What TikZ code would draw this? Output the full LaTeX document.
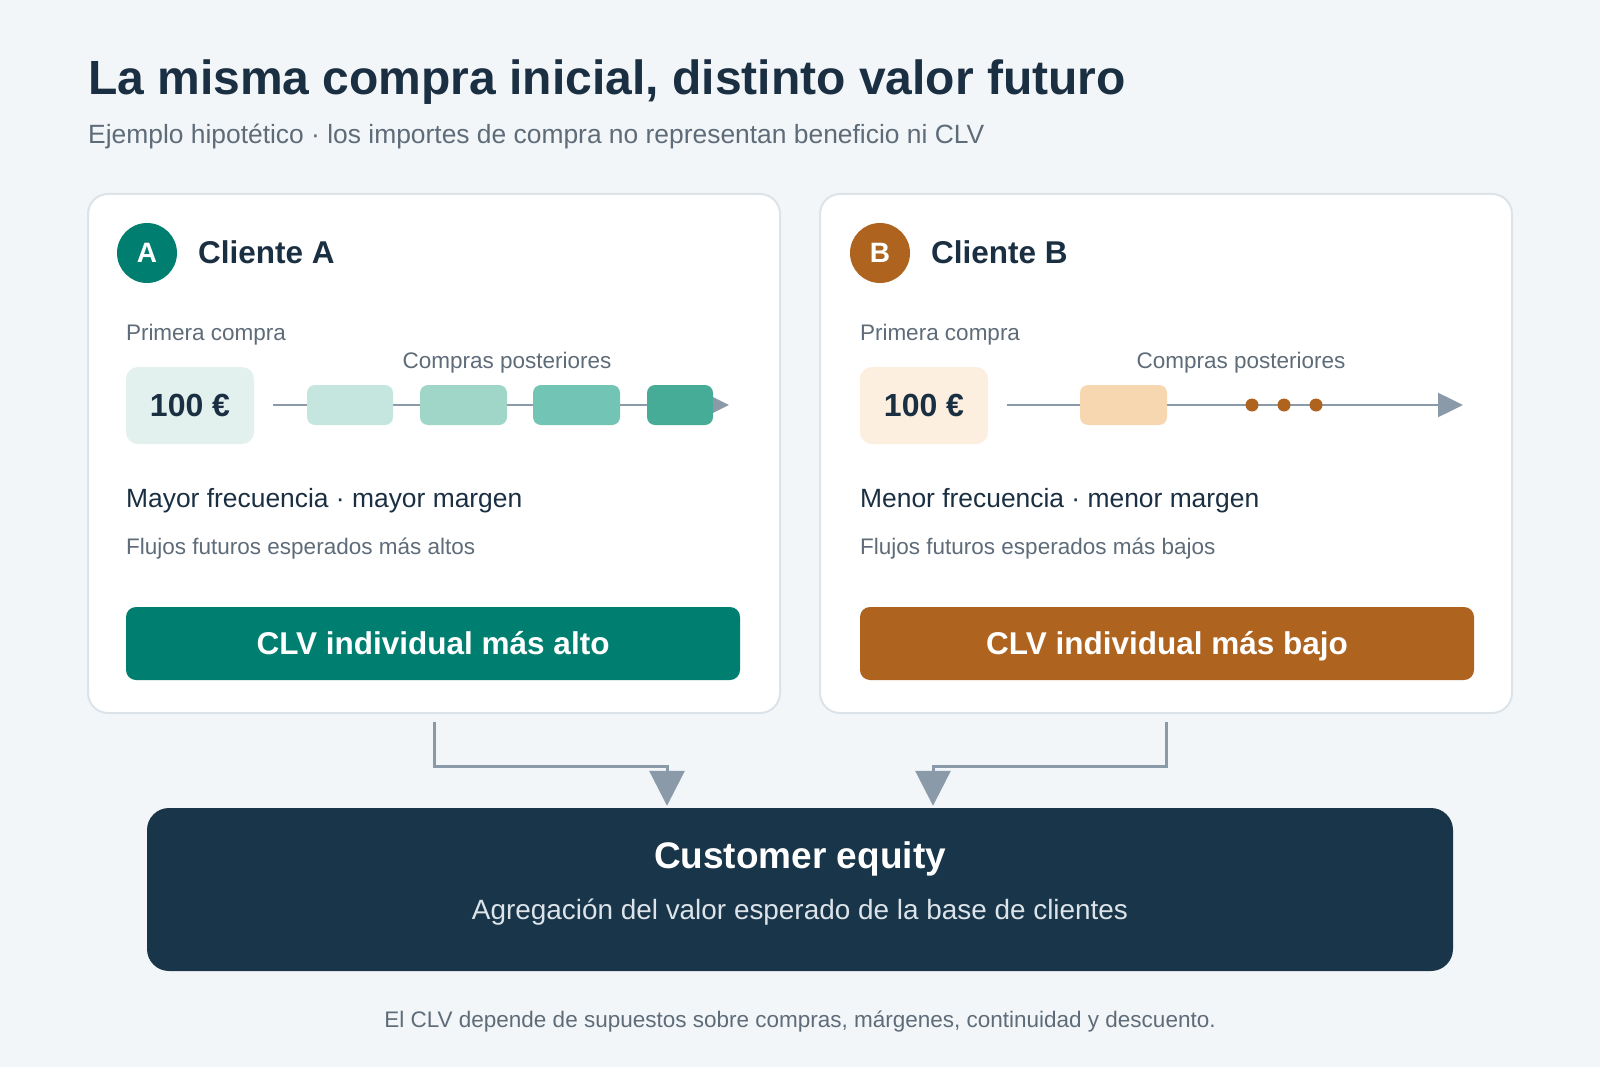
\documentclass[tikz,border=0pt]{standalone}
\usepackage{fontspec}
\setmainfont{Liberation Sans}
\usetikzlibrary{positioning, arrows.meta, calc}
\definecolor{Cbg}{HTML}{F3F6F9}
\definecolor{Cbdr}{HTML}{DCE3E9}
\definecolor{Cink}{HTML}{1B2F42}
\definecolor{Cgry}{HTML}{5E6C79}
\definecolor{Cln}{HTML}{8A9AA8}
\definecolor{Cteal}{HTML}{007F70}
\definecolor{Corg}{HTML}{AE631F}
\definecolor{Cnavy}{HTML}{183549}
\definecolor{Cta}{HTML}{E2F1EE}
\definecolor{Cob}{HTML}{FDEFDF}
\definecolor{Ct1}{HTML}{C4E6DE}
\definecolor{Ct2}{HTML}{9FD6C7}
\definecolor{Ct3}{HTML}{72C4B4}
\definecolor{Ct4}{HTML}{46AC98}
\definecolor{Co1}{HTML}{F6D7AF}
\newcommand\fz[1]{\fontsize{#1}{#1}\selectfont}
\tikzset{
  card/.style={
    draw=Cbdr, fill=white, rounded corners=20pt, line width=2pt,
    minimum width=692pt, minimum height=519pt, inner sep=0pt
  },
  badge/.style n args={1}{
    circle, fill=#1, minimum size=60pt, inner sep=0pt,
    text=white, font=\fz{28}\bfseries
  },
  eur/.style n args={1}{
    fill=#1, rounded corners=12pt, minimum width=128pt, minimum height=77pt,
    inner sep=0pt, text=Cink, font=\fz{32}\bfseries
  },
  buy/.style n args={1}{
    fill=#1, rounded corners=8pt, minimum height=40pt, inner sep=0pt
  },
  dot/.style={circle, fill=Corg, minimum size=13pt, inner sep=0pt},
  btn/.style n args={1}{
    fill=#1, rounded corners=10pt, minimum width=614pt, minimum height=73pt,
    inner sep=0pt, text height=22.5pt, text depth=0pt,
    text=white, font=\fz{31.5}\bfseries
  },
  lbl/.style={anchor=base west, inner sep=0pt},
  tl/.style={-{Triangle[length=25pt,width=24pt]}, line width=2.5pt, color=Cln},
  conn/.style={-{Triangle[length=35pt,width=35pt]}, line width=3pt, color=Cln}
}
\begin{document}
\begin{tikzpicture}[x=1pt, y=-1pt]

% background and page size
\fill[Cbg] (0,0) rectangle (1600,1067);
\useasboundingbox (0,0) rectangle (1600,1067);

% ─────────────────────────────────────────────────────────────
%  Heading
% ─────────────────────────────────────────────────────────────
\node[lbl, text=Cink, font=\fz{48}\bfseries] (title) at (88,95)
  {La misma compra inicial, distinto valor futuro};
\node[lbl, text=Cgry, font=\fz{26.4}] (subtitle) at (88,144)
  {Ejemplo hipotético · los importes de compra no representan beneficio ni CLV};

% ─────────────────────────────────────────────────────────────
%  Cliente A
% ─────────────────────────────────────────────────────────────
\node[card] (cardA) at (434,453.5) {};
\node[badge={Cteal}] (bA) at (147,253) {A};
\node[lbl, text=Cink, font=\fz{31.5}\bfseries] (nameA) at (198,264) {Cliente A};

\node[eur={Cta}] (eurA) at (190,405.5) {100 €};
\node[lbl, text=Cgry, font=\fz{22.5}, above=26pt of eurA.north west, anchor=base west]
  (firstA) {Primera compra};
\node[anchor=base, inner sep=0pt, text=Cgry, font=\fz{22.5}] (postA) at (507,368)
  {Compras posteriores};

\coordinate (tlA0) at (273,405);
\coordinate (tlA1) at (729,405);
\draw[tl] (tlA0) -- (tlA1);
\node[buy={Ct1}, minimum width=86pt] (pA1) at (350,405) {};
\node[buy={Ct2}, minimum width=87pt] (pA2) at (463.5,405) {};
\node[buy={Ct3}, minimum width=87pt] (pA3) at (576.5,405) {};
\node[buy={Ct4}, minimum width=66pt] (pA4) at (680,405) {};

\node[lbl, text=Cink, font=\fz{26.4}] (freqA) at (126,507)
  {Mayor frecuencia · mayor margen};
\node[lbl, text=Cgry, font=\fz{22.5}] (flowA) at (126,554)
  {Flujos futuros esperados más altos};
\node[btn={Cteal}] (clvA) at (433,643.5) {CLV individual más alto};

% ─────────────────────────────────────────────────────────────
%  Cliente B
% ─────────────────────────────────────────────────────────────
\node[card] (cardB) at (1166,453.5) {};
\node[badge={Corg}] (bB) at (880,253) {B};
\node[lbl, text=Cink, font=\fz{31.5}\bfseries] (nameB) at (931,264) {Cliente B};

\node[eur={Cob}] (eurB) at (924,405.5) {100 €};
\node[lbl, text=Cgry, font=\fz{22.5}, above=26pt of eurB.north west, anchor=base west]
  (firstB) {Primera compra};
\node[anchor=base, inner sep=0pt, text=Cgry, font=\fz{22.5}] (postB) at (1241,368)
  {Compras posteriores};

\coordinate (tlB0) at (1007,405);
\coordinate (tlB1) at (1463,405);
\draw[tl] (tlB0) -- (tlB1);
\node[buy={Co1}, minimum width=87pt] (pB1) at (1123.5,405) {};
\node[dot] (dB1) at (1252,405) {};
\node[dot] (dB2) at (1284,405) {};
\node[dot] (dB3) at (1316,405) {};

\node[lbl, text=Cink, font=\fz{26.4}] (freqB) at (860,507)
  {Menor frecuencia · menor margen};
\node[lbl, text=Cgry, font=\fz{22.5}] (flowB) at (860,554)
  {Flujos futuros esperados más bajos};
\node[btn={Corg}] (clvB) at (1167,643.5) {CLV individual más bajo};

% ─────────────────────────────────────────────────────────────
%  Customer equity
% ─────────────────────────────────────────────────────────────
\node[fill=Cnavy, rounded corners=22pt, minimum width=1306pt, minimum height=163pt,
      inner sep=0pt] (equity) at (800,889.5) {};
\node[anchor=base, inner sep=0pt, text=white, font=\fz{37}\bfseries] (eqT)
  at ([yshift=21.5pt]equity.center) {Customer equity};
\node[anchor=base, inner sep=0pt, text=Cbdr, font=\fz{27.9}] (eqS)
  at ([yshift=-29.5pt]equity.center) {Agregación del valor esperado de la base de clientes};

% connectors
\draw[conn] ([yshift=-8pt]cardA.south)
  |- ([xshift=-133pt,yshift=41pt]equity.north)
  -- ([xshift=-133pt,yshift=2pt]equity.north);
\draw[conn] ([yshift=-8pt]cardB.south)
  |- ([xshift=133pt,yshift=41pt]equity.north)
  -- ([xshift=133pt,yshift=2pt]equity.north);

% footnote
\node[anchor=base, inner sep=0pt, text=Cgry, font=\fz{22.5}] (note) at (800,1027)
  {El CLV depende de supuestos sobre compras, márgenes, continuidad y descuento.};

\end{tikzpicture}
\end{document}
